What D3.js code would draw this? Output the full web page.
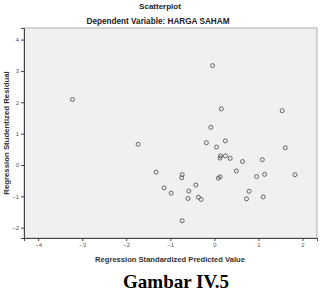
<!DOCTYPE html>
<html>
<head>
<meta charset="utf-8">
<script src="https://cdn.jsdelivr.net/npm/d3@7"></script>
<style>
  body { margin: 0; background: #fff; }
</style>
</head>
<body>
<div id="chart"></div>
<script>
// valores
const predicho = [-0.04, -3.22, 0.16, 1.54, -0.08, -1.73, -0.18, 0.25, 0.05, 1.61,
  0.14, 0.13, 0.25, 0.36, 0.64, 1.09, -1.32, -0.73, -0.74, 0.50,
  0.13, 0.09, 0.96, 1.14, 1.83, -1.14, -0.42, -0.98, -0.58, 0.79,
  -0.60, -0.36, -0.30, 0.73, 1.11, -0.73];
const residuo = [3.17, 2.09, 1.79, 1.73, 1.20, 0.66, 0.71, 0.77, 0.57, 0.55,
  0.29, 0.22, 0.29, 0.21, 0.11, 0.17, -0.23, -0.31, -0.41, -0.19,
  -0.38, -0.42, -0.37, -0.30, -0.31, -0.73, -0.64, -0.90, -0.83, -0.84,
  -1.07, -1.03, -1.10, -1.08, -1.02, -1.78];
const ticksX = [-4, -3, -2, -1, 0, 1, 2];
const ticksY = [-2, -1, 0, 1, 2, 3, 4];

const width = 323, height = 291;
const margin = { top: 28, right: 6, bottom: 53, left: 24 };

const svg = d3.select("#chart").append("svg")
  .attr("width", width)
  .attr("height", height)
  .style("font-family", "Arial, 'Liberation Sans', sans-serif");

const x = d3.scaleLinear().domain([-4.32, 2.33]).range([margin.left, width - margin.right]);
const y = d3.scaleLinear().domain([-2.33, 4.37]).range([height - margin.bottom, margin.top]);

// fondo del area
svg.append("rect")
  .attr("x", margin.left).attr("y", margin.top)
  .attr("width", width - margin.right - margin.left)
  .attr("height", height - margin.bottom - margin.top)
  .attr("fill", "#f0f0f0")
  .attr("stroke", "#b0b0b0");

// titulos
svg.append("text").attr("x", 160).attr("y", 9)
  .attr("text-anchor", "middle").attr("font-size", 8).attr("font-weight", "bold")
  .attr("fill", "#222").text("Scatterplot");
svg.append("text").attr("x", 158).attr("y", 24)
  .attr("text-anchor", "middle").attr("font-size", 8.2).attr("font-weight", "bold")
  .attr("fill", "#222").text("Dependent Variable: HARGA SAHAM");

// ejes
const fmt = d3.format("d");
const xAxis = svg.append("g")
  .attr("transform", `translate(0,${height - margin.bottom})`)
  .call(d3.axisBottom(x).tickValues(ticksX).tickFormat(fmt).tickSize(3).tickPadding(2));
const yAxis = svg.append("g")
  .attr("transform", `translate(${margin.left},0)`)
  .call(d3.axisLeft(y).tickValues(ticksY).tickFormat(fmt).tickSize(3).tickPadding(2));

[xAxis, yAxis].forEach(g => {
  g.select(".domain").attr("stroke", "#444");
  g.selectAll(".tick line").attr("stroke", "#444");
  g.selectAll(".tick text").attr("font-size", 6).attr("fill", "#555")
    .attr("font-family", "Arial, 'Liberation Sans', sans-serif");
});

// puntos
svg.append("g").selectAll("circle")
  .data(predicho.map((d, i) => [d, residuo[i]]))
  .join("circle")
  .attr("cx", d => x(d[0]))
  .attr("cy", d => y(d[1]))
  .attr("r", 2)
  .attr("fill", "none")
  .attr("stroke", "#555")
  .attr("stroke-width", 0.9);

// etiquetas de ejes
svg.append("text").attr("x", 170).attr("y", 262)
  .attr("text-anchor", "middle").attr("font-size", 7.6).attr("font-weight", "bold")
  .attr("fill", "#333").text("Regression Standardized Predicted Value");
svg.append("text")
  .attr("transform", "translate(8.5,133) rotate(-90)")
  .attr("text-anchor", "middle").attr("font-size", 7.8).attr("font-weight", "bold")
  .attr("fill", "#333").text("Regression Studentized Residual");

svg.append("text").attr("x", 176).attr("y", 288)
  .attr("text-anchor", "middle").attr("font-size", 19).attr("font-weight", "bold")
  .attr("font-family", "'Liberation Serif', 'Times New Roman', serif")
  .attr("fill", "#000").text("Gambar IV.5");
</script>
</body>
</html>
